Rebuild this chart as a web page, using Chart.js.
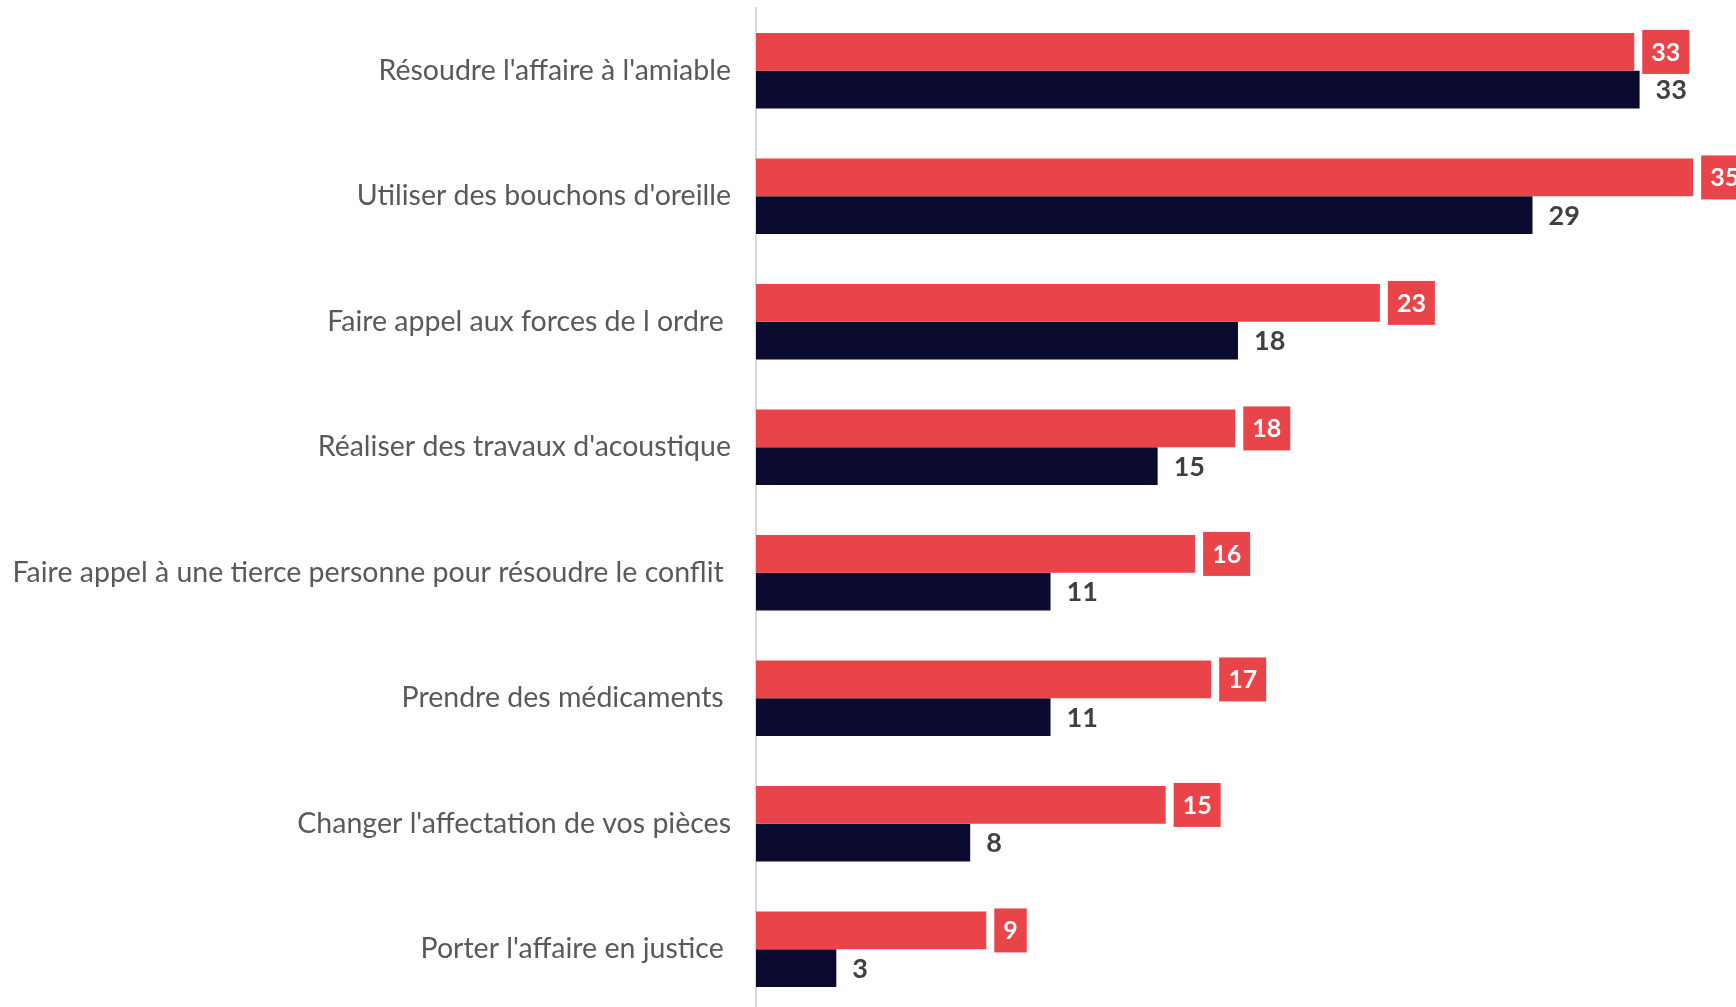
<!DOCTYPE html>
<html>
<head>
<meta charset="utf-8">
<script src="https://cdn.jsdelivr.net/npm/chart.js@4/dist/chart.umd.min.js"></script>
<style>
html,body{margin:0;padding:0;background:#fff;overflow:hidden;}
#wrap{width:1736px;height:1012px;position:relative;}
</style>
</head>
<body>
<div id="wrap"><canvas id="c" width="1736" height="1012"></canvas></div>
<script>
const categories = [
  "Résoudre l'affaire à l'amiable",
  "Utiliser des bouchons d'oreille",
  "Faire appel aux forces de l ordre ",
  "Réaliser des travaux d'acoustique",
  "Faire appel à une tierce personne pour résoudre le conflit ",
  "Prendre des médicaments ",
  "Changer l'affectation de vos pièces",
  "Porter l'affaire en justice "
];
const seriesRed = [32.8, 35.0, 23.3, 17.9, 16.4, 17.0, 15.3, 8.6];
const seriesDark = [33, 29, 18, 15, 11, 11, 8, 3];
const redLabels = ["33", "35", "23", "18", "16", "17", "15", "9"];
const darkLabels = ["33", "29", "18", "15", "11", "11", "8", "3"];

const RED = '#E8444A';
const DARK = '#0B0A2F';

const labelPlugin = {
  id: 'valueLabels',
  afterDatasetsDraw(chart) {
    const ctx = chart.ctx;
    ctx.save();
    ctx.textBaseline = 'middle';
    ctx.font = 'bold 25px Lato';
    const m0 = chart.getDatasetMeta(0);
    m0.data.forEach((bar, i) => {
      const t = redLabels[i];
      const tw = ctx.measureText(t).width;
      const bx = bar.x + 8, bw = tw + 18, bh = 44;
      ctx.fillStyle = RED;
      ctx.fillRect(bx, bar.y - bh / 2, bw, bh);
      ctx.fillStyle = '#FFFFFF';
      ctx.textAlign = 'center';
      ctx.fillText(t, bx + bw / 2, bar.y + 1);
    });
    ctx.font = 'bold 27px Lato';
    const m1 = chart.getDatasetMeta(1);
    m1.data.forEach((bar, i) => {
      ctx.fillStyle = '#404040';
      ctx.textAlign = 'left';
      ctx.fillText(darkLabels[i], bar.x + 16, bar.y + 1);
    });
    ctx.restore();
  }
};

new Chart(document.getElementById('c'), {
  type: 'bar',
  data: {
    labels: categories,
    datasets: [
      { data: seriesRed, backgroundColor: RED, categoryPercentage: 0.6, barPercentage: 1.0 },
      { data: seriesDark, backgroundColor: DARK, categoryPercentage: 0.6, barPercentage: 1.0 }
    ]
  },
  options: {
    indexAxis: 'y',
    responsive: false,
    animation: false,
    layout: { padding: { top: 8, right: 0, bottom: 0, left: 0 } },
    plugins: { legend: { display: false }, tooltip: { enabled: false } },
    scales: {
      x: { display: false, min: 0, max: 36.6 },
      y: {
        grid: { display: false, drawTicks: false },
        border: { display: true, color: '#D9D9D9', width: 2 },
        ticks: { color: '#595959', font: { family: 'Lato', size: 28.5 }, padding: 25 },
        afterFit(scale) { scale.width = 756; scale.paddingTop = 0; scale.paddingBottom = 0; }
      }
    }
  },
  plugins: [labelPlugin]
});
</script>
</body>
</html>
